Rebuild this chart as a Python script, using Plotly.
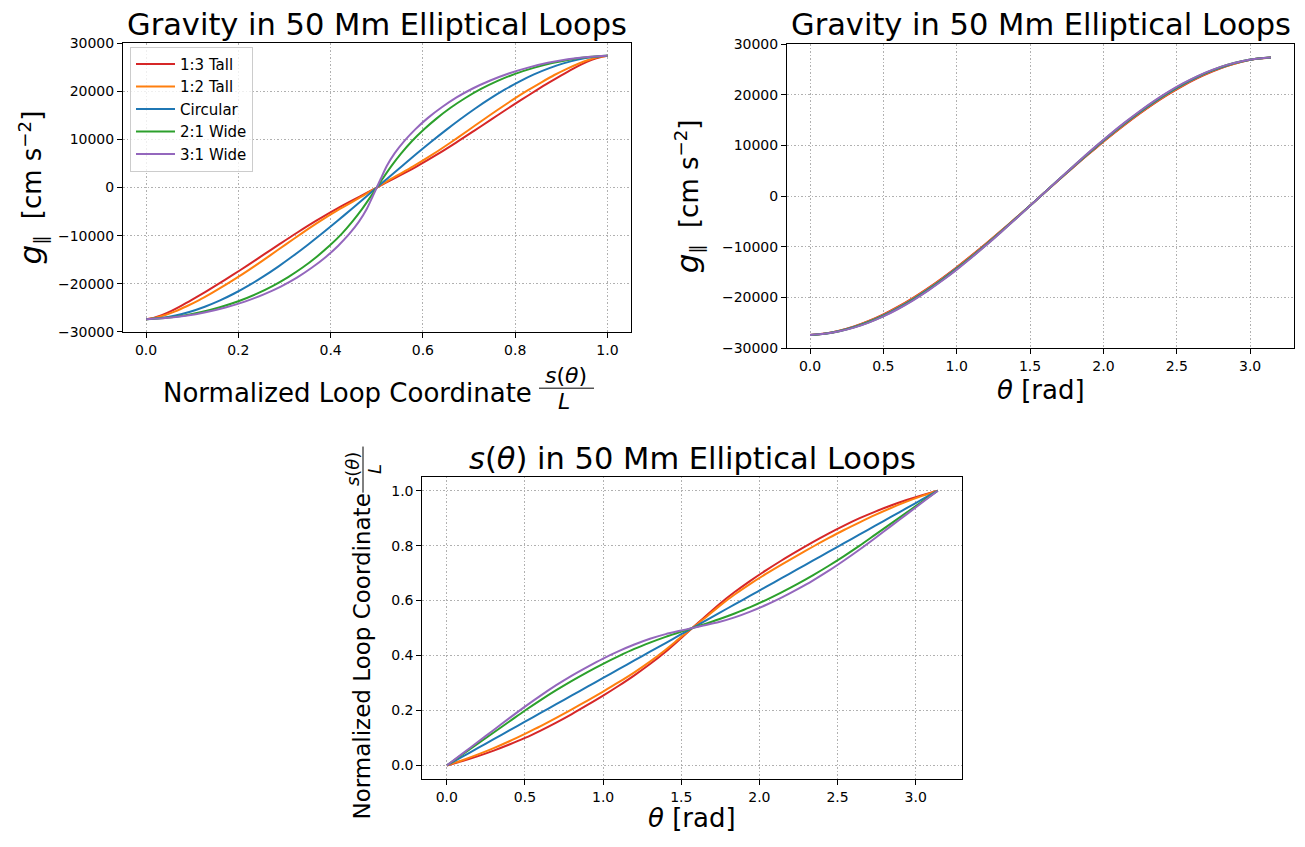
import plotly.graph_objects as go

# ---------------- data ----------------
theta = [0.0, 0.1, 0.2, 0.3, 0.4, 0.5, 0.6, 0.7, 0.8, 0.9, 1.0, 1.1, 1.2, 1.3, 1.4, 1.5,
         1.5708,
         1.6416, 1.7416, 1.8416, 1.9416, 2.0416, 2.1416, 2.2416, 2.3416, 2.4416, 2.5416,
         2.6416, 2.7416, 2.8416, 2.9416, 3.0416, 3.1416]

loop_names = ["1:3 Tall", "1:2 Tall", "Circular", "2:1 Wide", "3:1 Wide"]
loop_colors = ["#d62728", "#ff7f0e", "#1f77b4", "#2ca02c", "#9467bd"]

# normalized loop coordinate s(theta)/L
s_tall3 = [0, .016, .034, .054, .076, .100, .127, .156, .187, .220, .254, .290, .328, .369, .414, .464,
           .5,
           .536, .586, .631, .672, .710, .746, .780, .813, .844, .873, .900, .924, .946, .966, .984, 1.0]
s_tall2 = [0, .019, .040, .063, .088, .115, .143, .173, .204, .236, .269, .303, .339, .378, .421, .468,
           .5,
           .532, .579, .622, .661, .697, .731, .764, .796, .827, .857, .885, .912, .937, .960, .981, 1.0]
s_circ = [0, .0318, .0637, .0955, .1273, .1592, .1910, .2228, .2546, .2865, .3183, .3501, .3820, .4138, .4456, .4775,
          .5,
          .5225, .5544, .5862, .6180, .6499, .6817, .7135, .7454, .7772, .8090, .8408, .8727, .9045, .9363, .9682, 1.0]
s_wide2 = [0, .040, .080, .120, .160, .200, .238, .274, .308, .340, .370, .398, .424, .447, .468, .487,
           .5,
           .513, .532, .553, .576, .602, .630, .660, .692, .726, .762, .800, .840, .880, .920, .960, 1.0]
s_wide3 = [0, .043, .086, .129, .172, .214, .254, .292, .327, .359, .389, .416, .440, .461, .478, .491,
           .5,
           .509, .522, .539, .560, .584, .611, .641, .673, .708, .746, .786, .828, .871, .914, .957, 1.0]

# parallel gravity g_par [cm s^-2]
g_tall3 = [-27400, -27120, -26550, -25720, -24630, -23330, -21810, -20100, -18230, -16190, -14020,
           -11730, -9350, -6890, -4370, -1830,
           0,
           1830, 4370, 6890, 9350, 11730, 14020, 16190, 18230, 20100, 21810, 23330, 24630, 25720,
           26550, 27120, 27400]
g_tall2 = [-27400, -27130, -26570, -25760, -24690, -23410, -21900, -20200, -18330, -16290, -14110,
           -11810, -9420, -6940, -4400, -1840,
           0,
           1840, 4400, 6940, 9420, 11810, 14110, 16290, 18330, 20200, 21900, 23410, 24690, 25760,
           26570, 27130, 27400]
g_circ = [-27400, -27140, -26610, -25830, -24790, -23530, -22040, -20350, -18480, -16440, -14250,
          -11940, -9520, -7020, -4450, -1850,
          0,
          1850, 4450, 7020, 9520, 11940, 14250, 16440, 18480, 20350, 22040, 23530, 24790, 25830,
          26610, 27140, 27400]
g_wide2 = [-27400, -27150, -26650, -25900, -24890, -23650, -22180, -20500, -18630, -16590, -14390,
           -12070, -9630, -7100, -4500, -1870,
           0,
           1870, 4500, 7100, 9630, 12070, 14390, 16590, 18630, 20500, 22180, 23650, 24890, 25900,
           26650, 27150, 27400]
g_wide3 = [-27400, -27160, -26670, -25940, -24950, -23730, -22270, -20600, -18740, -16690, -14490,
           -12150, -9700, -7150, -4530, -1880,
           0,
           1880, 4530, 7150, 9700, 12150, 14490, 16690, 18740, 20600, 22270, 23730, 24950, 25940,
           26670, 27160, 27400]

s_series = [s_tall3, s_tall2, s_circ, s_wide2, s_wide3]
g_series = [g_tall3, g_tall2, g_circ, g_wide2, g_wide3]

# tick labels
g_tickvals = [-30000, -20000, -10000, 0, 10000, 20000, 30000]
g_ticktext = ["\u221230000", "\u221220000", "\u221210000", "0", "10000", "20000", "30000"]
snorm_tickvals = [0.0, 0.2, 0.4, 0.6, 0.8, 1.0]
theta_tickvals = [0.0, 0.5, 1.0, 1.5, 2.0, 2.5, 3.0]

# ---------------- layout helpers ----------------
W, H = 1305, 847
FONT = "DejaVu Sans"


def PX(x):
    return x / W


def PY(y):
    return 1 - y / H


fig = go.Figure()

for name, col, s, g in zip(loop_names, loop_colors, s_series, g_series):
    line = dict(color=col, width=2, shape="spline", smoothing=0.8)
    fig.add_trace(go.Scatter(x=s, y=g, mode="lines", name=name, line=line,
                             xaxis="x", yaxis="y", showlegend=True))
    fig.add_trace(go.Scatter(x=theta, y=g, mode="lines", name=name, line=line,
                             xaxis="x2", yaxis="y2", showlegend=False))
    fig.add_trace(go.Scatter(x=theta, y=s, mode="lines", name=name, line=line,
                             xaxis="x3", yaxis="y3", showlegend=False))

axis_common = dict(
    showline=True, linecolor="black", linewidth=1, mirror=True,
    ticks="outside", ticklen=5, tickwidth=1, tickcolor="black",
    showgrid=True, gridcolor="#b0b0b0", gridwidth=1, griddash="1.5px,2px",
    zeroline=False, tickfont=dict(family=FONT, size=14, color="black"),
)

fig.update_layout(
    width=W, height=H, autosize=False,
    margin=dict(l=0, r=0, t=0, b=0),
    paper_bgcolor="white", plot_bgcolor="white",
    font=dict(family=FONT, color="black"),
    xaxis=dict(domain=[PX(123), PX(630.5)], range=[-0.05, 1.05], anchor="y",
               tickvals=snorm_tickvals, tickformat=".1f", **axis_common),
    yaxis=dict(domain=[PY(330), PY(36)], range=[-30000, 30000], anchor="x",
               tickvals=g_tickvals, ticktext=g_ticktext, **axis_common),
    xaxis2=dict(domain=[PX(787), PX(1294)], range=[-0.157, 3.299], anchor="y2",
                tickvals=theta_tickvals, tickformat=".1f", **axis_common),
    yaxis2=dict(domain=[PY(346.7), PY(37)], range=[-30000, 30000], anchor="x2",
                tickvals=g_tickvals, ticktext=g_ticktext, **axis_common),
    xaxis3=dict(domain=[PX(422.3), PX(962.4)], range=[-0.157, 3.299], anchor="y3",
                tickvals=theta_tickvals, tickformat=".1f", **axis_common),
    yaxis3=dict(domain=[PY(786), PY(478)], range=[-0.05, 1.05], anchor="x3",
                tickvals=snorm_tickvals, tickformat=".1f", **axis_common),
    legend=dict(x=PX(130), y=PY(39.5), xanchor="left", yanchor="top",
                bgcolor="rgba(255,255,255,0.8)", bordercolor="#cccccc",
                borderwidth=1, font=dict(family=FONT, size=15, color="black"),
                itemwidth=39, tracegroupgap=0),
    showlegend=True,
)

annotations = []


def ann(text, x, y, size, angle=0, xanchor="center", yanchor="middle"):
    annotations.append(dict(text=text, x=PX(x), y=PY(y), xref="paper", yref="paper",
                            showarrow=False, textangle=angle, xanchor=xanchor,
                            yanchor=yanchor,
                            font=dict(family=FONT, size=size, color="black")))


# titles
ann("Gravity in 50 Mm Elliptical Loops", 376.75, 17, 30.5)
ann("Gravity in 50 Mm Elliptical Loops", 1040.5, 17, 30.5)
ann("<i>s</i>(<i>\u03b8</i>) in 50 Mm Elliptical Loops", 692.3, 459, 30.5)

# x labels
ann("Normalized Loop Coordinate", 534, 392, 26, xanchor="right")
ann("<i>s</i>(<i>\u03b8</i>)", 566, 375, 22)
ann("<i>L</i>", 564, 401, 22)
ann("<i>\u03b8</i> [rad]", 1040.5, 389, 26)
ann("<i>\u03b8</i> [rad]", 692.3, 826, 26)

# y labels
glabel = "<i><span style='font-size:31px'>g</span></i><sub>\u2225</sub>  [cm s<sup>\u22122</sup>]"
ann(glabel, 31, 183, 26, angle=-90)
ann(glabel, 688, 192, 26, angle=-90)
ann("Normalized Loop Coordinate", 362, 661, 23, angle=-90)
ann("<i>s</i>(<i>\u03b8</i>)", 352, 470, 18, angle=-90)
ann("<i>L</i>", 374, 470, 18, angle=-90)

fig.update_layout(annotations=annotations)

# fraction bars
fig.add_shape(type="line", xref="paper", yref="paper",
              x0=PX(539), x1=PX(594), y0=PY(387.5), y1=PY(387.5),
              line=dict(color="black", width=1))
fig.add_shape(type="line", xref="paper", yref="paper",
              x0=PX(363), x1=PX(363), y0=PY(447), y1=PY(494),
              line=dict(color="black", width=1))

fig.write_html("out.html")
